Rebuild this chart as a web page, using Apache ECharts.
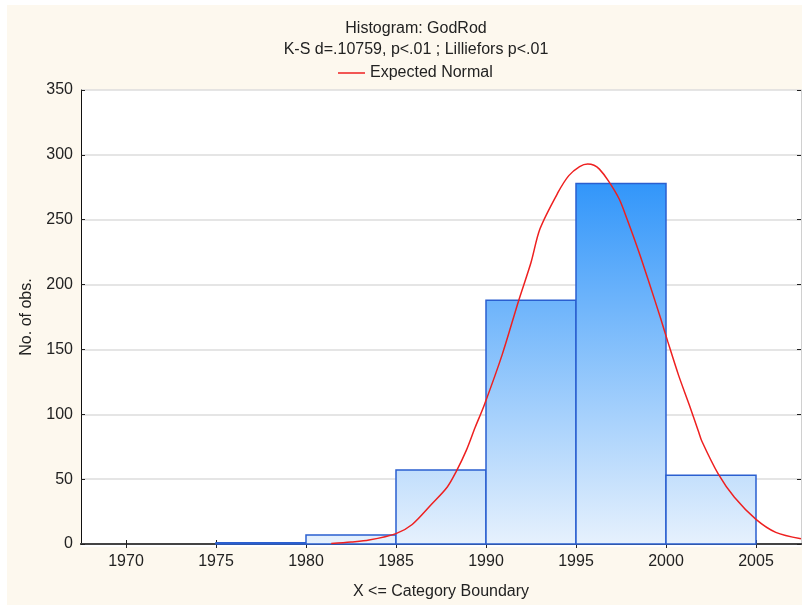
<!DOCTYPE html>
<html>
<head>
<meta charset="utf-8">
<title>Histogram: GodRod</title>
<script src="https://cdn.jsdelivr.net/npm/echarts@6/dist/echarts.min.js"></script>
<style>
	html, body { margin: 0; padding: 0; background: #fff; }
	#chart { width: 802px; height: 605px; }
</style>
</head>
<body>
<div id="chart"></div>
<script>
	// category boundaries (x <= boundary) and counts
	const binStart = [1975, 1980, 1985, 1990, 1995, 2000];
	const binEnd = [1980, 1985, 1990, 1995, 2000, 2005];
	const binCount = [1, 7, 57, 188, 278, 53];
	const xTicks = [1970, 1975, 1980, 1985, 1990, 1995, 2000, 2005];

	// expected normal curve
	const normalX = [1981.4, 1982.5, 1983.5, 1985, 1985.9, 1987, 1987.85, 1988.35, 1988.9, 1989.4, 1989.9, 1990.9, 1991.8, 1992.5, 1993.0, 1994.0, 1994.6, 1995.2, 1995.65, 1996.0, 1996.3, 1996.8, 1997.4, 1997.85, 1998.5, 1999.05, 1999.7, 2000.1, 2000.7, 2001.3, 2001.8, 2002.0, 2002.9, 2003.8, 2005.0, 2006.1, 2007.5];
	const normalY = [0.3, 1.5, 3, 8, 15, 31, 44, 56, 72, 90, 107, 146, 187, 217, 243, 271, 284, 291, 293, 292, 289, 280, 266, 250, 225, 202, 174, 156, 130, 107, 87, 79, 54, 36, 19, 9, 4];

	const font = '"Liberation Sans", Arial, sans-serif';
	const txt = '#222';
	const fs = 16;

	const chart = echarts.init(document.getElementById('chart'));
	const maxCount = Math.max(...binCount);

	const option = {
		backgroundColor: '#fff',
		animation: false,
		textStyle: { fontFamily: font },
		graphic: [
			{ type: 'rect', z: -10, silent: true, shape: { x: 7, y: 5, width: 795, height: 600 }, style: { fill: '#fdf8ee' } },
			{ type: 'rect', z: -9, silent: true, shape: { x: 81, y: 90, width: 720, height: 457 }, style: { fill: '#fff' } }
		],
		title: {
			text: 'Histogram: GodRod\nK-S d=.10759, p<.01 ; Lilliefors p<.01',
			left: 411,
			top: 13,
			textAlign: 'center',
			textStyle: { fontFamily: font, fontSize: fs, fontWeight: 'normal', color: txt, lineHeight: 21 }
		},
		legend: {
			data: [{ name: 'Expected Normal', icon: 'rect' }],
			left: 333,
			top: 60,
			itemWidth: 27,
			itemHeight: 1.5,
			itemGap: 5,
			textStyle: { fontFamily: font, fontSize: fs, color: txt }
		},
		grid: { left: 81, right: 1, top: 90, bottom: 58 },
		xAxis: [
			{
				type: 'value', position: 'bottom',
				min: 1967.5, max: 2007.5,
				name: 'X <= Category Boundary', nameLocation: 'middle', nameGap: 40,
				nameTextStyle: { fontFamily: font, fontSize: fs, color: txt },
				axisLine: { lineStyle: { color: '#333', width: 2 } },
				axisTick: { inside: true, length: 4, customValues: xTicks, lineStyle: { color: '#222' } },
				axisLabel: { customValues: xTicks, formatter: v => String(v), fontFamily: font, fontSize: fs, color: txt, margin: 10 },
				splitLine: { show: false }
			},
			{
				type: 'value', position: 'top',
				min: 1967.5, max: 2007.5,
				axisLine: { show: true, lineStyle: { color: '#444', width: 2 } },
				axisTick: { inside: true, length: 4, customValues: xTicks, lineStyle: { color: '#222' } },
				axisLabel: { show: false },
				splitLine: { show: false }
			}
		],
		yAxis: [
			{
				type: 'value', position: 'left',
				min: 0, max: 350, interval: 50,
				name: 'No. of obs.', nameLocation: 'middle', nameGap: 46,
				nameTextStyle: { fontFamily: font, fontSize: fs, color: txt },
				axisLine: { show: true, lineStyle: { color: '#111', width: 1 } },
				axisTick: { show: true, inside: true, length: 4, lineStyle: { color: '#222' } },
				axisLabel: { fontFamily: font, fontSize: fs, color: txt, margin: 8 },
				splitLine: { show: true, lineStyle: { color: '#dcdcdc', width: 1.5 } }
			},
			{
				type: 'value', position: 'right',
				min: 0, max: 350, interval: 50,
				axisLine: { show: true, lineStyle: { color: '#d0d0d0', width: 1 } },
				axisTick: { show: true, inside: true, length: 4, lineStyle: { color: '#222' } },
				axisLabel: { show: false },
				splitLine: { show: false }
			}
		],
		series: [
			{
				name: 'bins',
				type: 'custom',
				data: binCount.map((c, i) => [binStart[i], binEnd[i], c]),
				renderItem: function (params, api) {
					const p0 = api.coord([api.value(0), api.value(2)]);
					const p1 = api.coord([api.value(1), 0]);
					const gTop = api.coord([0, maxCount])[1];
					const gBot = api.coord([0, 0])[1];
					return {
						type: 'rect',
						shape: { x: p0[0], y: p0[1], width: p1[0] - p0[0], height: p1[1] - p0[1] },
						style: {
							fill: new echarts.graphic.LinearGradient(0, gTop, 0, gBot, [
								{ offset: 0, color: '#3296fa' },
								{ offset: 1, color: '#e6f1fd' }
							], true),
							stroke: '#2a5fd0',
							lineWidth: 1.5
						}
					};
				},
				z: 2
			},
			{
				name: 'Expected Normal',
				type: 'line',
				data: normalX.map((x, i) => [x, normalY[i]]),
				symbol: 'none',
				smooth: 0.3,
				lineStyle: { color: '#ee2020', width: 1.5 },
				itemStyle: { color: '#ee2020' },
				z: 3
			}
		]
	};

	chart.setOption(option);
</script>
</body>
</html>
